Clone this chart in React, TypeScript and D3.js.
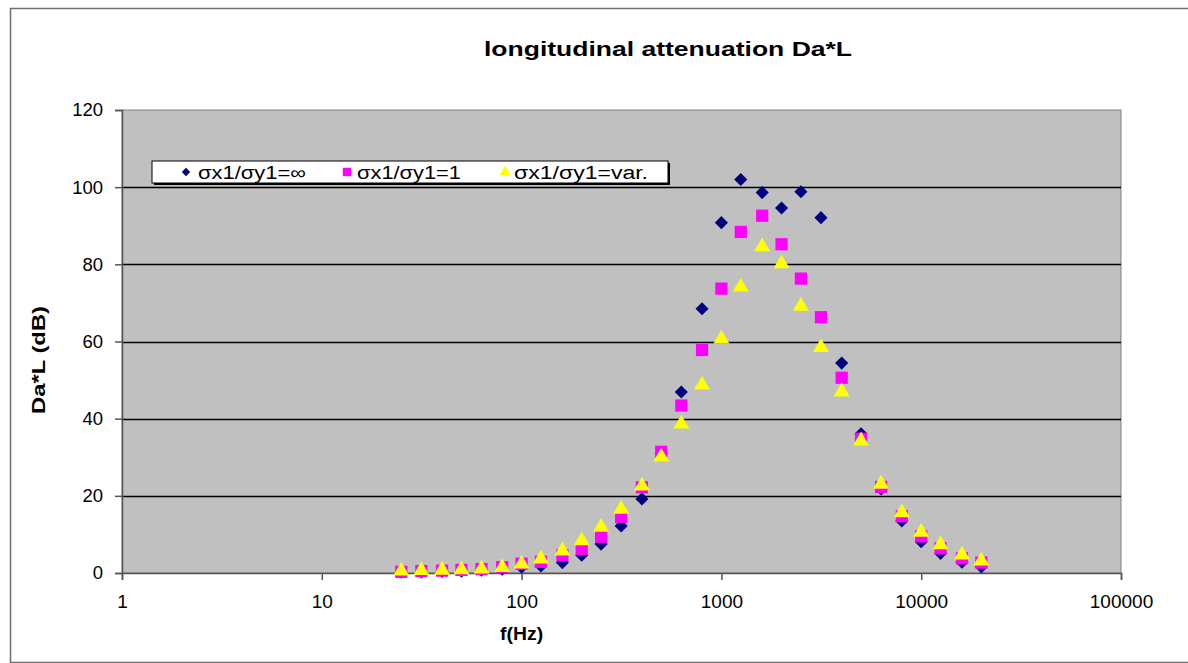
import React, { useRef, useEffect } from "react";
import * as d3 from "d3";

const freqs = [
  25, 31.5, 40, 50, 63, 80, 100, 125, 160, 200, 250, 315, 400, 500, 630, 800,
  1000, 1250, 1600, 2000, 2500, 3150, 4000, 5000, 6300, 8000, 10000, 12500,
  16000, 20000,
];
const infValues = [
  0.2, 0.3, 0.4, 0.5, 0.7, 1.0, 1.5, 1.8, 2.7, 4.6, 7.5, 12.2, 19.2, 31.0, 46.9,
  68.5, 90.8, 102.0, 98.6, 94.6, 98.8, 92.1, 54.4, 36.1, 21.8, 13.5, 8.1, 5.1,
  2.8, 1.6,
];
const oneValues = [
  0.3, 0.5, 0.6, 0.8, 1.0, 1.5, 2.4, 2.9, 4.6, 6.2, 9.4, 14.5, 22.2, 31.4, 43.4,
  57.8, 73.7, 88.4, 92.6, 85.2, 76.3, 66.3, 50.6, 34.8, 22.3, 14.7, 9.5, 6.4,
  3.8, 2.7,
];
const varValues = [
  0.3, 0.4, 0.5, 0.6, 0.8, 1.2, 2.1, 3.4, 5.5, 8.1, 11.6, 16.3, 22.3, 29.8, 38.4,
  48.5, 60.4, 73.9, 84.3, 79.9, 68.9, 58.2, 46.7, 34.0, 22.8, 15.4, 10.3, 7.1,
  4.4, 2.9,
];
const seriesLabels = ["σx1/σy1=∞", "σx1/σy1=1", "σx1/σy1=var."];
const xTicks = [1, 10, 100, 1000, 10000, 100000];
const yTicks = [0, 20, 40, 60, 80, 100, 120];

const W = 1188;
const H = 663;
const FONT = "'Liberation Sans', Arial, sans-serif";

const Chart = () => {
  const ref = useRef<SVGSVGElement | null>(null);

  useEffect(() => {
    if (!ref.current) return;
    const svg = d3.select(ref.current);
    svg.selectAll("*").remove();

    const plot = { left: 122, top: 110, right: 1121, bottom: 573 };

    const x = d3.scaleLog().domain([1, 100000]).range([plot.left, plot.right]);
    const y = d3.scaleLinear().domain([0, 120]).range([plot.bottom, plot.top]);

    // page background + outer frame
    svg.append("rect").attr("width", W).attr("height", H).attr("fill", "#fff");
    svg
      .append("rect")
      .attr("x", 10.5)
      .attr("y", 8.5)
      .attr("width", W)
      .attr("height", H - 9)
      .attr("fill", "#fff")
      .attr("stroke", "#6e6e6e")
      .attr("stroke-width", 1.5);

    // plot area
    svg
      .append("rect")
      .attr("x", plot.left)
      .attr("y", plot.top)
      .attr("width", plot.right - plot.left)
      .attr("height", plot.bottom - plot.top)
      .attr("fill", "#c0c0c0")
      .attr("stroke", "#808080")
      .attr("stroke-width", 1);

    // grid lines
    svg
      .append("g")
      .selectAll("line")
      .data(yTicks.filter((d) => d > 0 && d < 120))
      .enter()
      .append("line")
      .attr("x1", plot.left)
      .attr("x2", plot.right)
      .attr("y1", (d) => Math.round(y(d)) + 0.5)
      .attr("y2", (d) => Math.round(y(d)) + 0.5)
      .attr("stroke", "#000")
      .attr("stroke-width", 1.5);

    // Y axis
    svg
      .append("g")
      .attr("transform", `translate(${plot.left},0)`)
      .call(d3.axisLeft(y).tickValues(yTicks).tickSize(7).tickPadding(12))
      .call((g) => g.selectAll("line, path").attr("stroke", "#555").attr("stroke-width", 1.5))
      .selectAll("text")
      .style("font-family", FONT)
      .style("font-size", "18.5px")
      .style("fill", "#000");

    // X axis
    svg
      .append("g")
      .attr("transform", `translate(0,${plot.bottom})`)
      .call(
        d3
          .axisBottom(x)
          .tickValues(xTicks)
          .tickFormat((d) => String(d))
          .tickSize(7)
          .tickPadding(15)
      )
      .call((g) => g.selectAll("line, path").attr("stroke", "#555").attr("stroke-width", 1.5))
      .selectAll("text")
      .style("font-family", FONT)
      .style("font-size", "19px")
      .style("fill", "#000");

    // titles
    svg
      .append("text")
      .attr("x", 668)
      .attr("y", 56)
      .attr("text-anchor", "middle")
      .attr("textLength", 368)
      .attr("lengthAdjust", "spacingAndGlyphs")
      .style("font-family", FONT)
      .style("font-size", "21px")
      .style("font-weight", "bold")
      .text("longitudinal attenuation Da*L");
    svg
      .append("text")
      .attr("x", x(100))
      .attr("y", 640)
      .attr("text-anchor", "middle")
      .attr("textLength", 43)
      .attr("lengthAdjust", "spacingAndGlyphs")
      .style("font-family", FONT)
      .style("font-size", "18px")
      .style("font-weight", "bold")
      .text("f(Hz)");
    svg
      .append("text")
      .attr("transform", `translate(45,360) rotate(-90)`)
      .attr("text-anchor", "middle")
      .attr("textLength", 108)
      .attr("lengthAdjust", "spacingAndGlyphs")
      .style("font-family", FONT)
      .style("font-size", "18px")
      .style("font-weight", "bold")
      .text("Da*L (dB)");

    const diamond = d3.symbol().type(d3.symbolDiamond2).size(110);
    const square = d3.symbol().type(d3.symbolSquare).size(150);
    const triangle = d3.symbol().type(d3.symbolTriangle).size(110);

    const markers = [
      { values: infValues, sym: diamond, color: "#000080", dy: 0 },
      { values: oneValues, sym: square, color: "#ff00ff", dy: 0 },
      { values: varValues, sym: triangle, color: "#ffff00", dy: -1 },
    ];

    markers.forEach((m) => {
      svg
        .append("g")
        .selectAll("path")
        .data(m.values)
        .enter()
        .append("path")
        .attr("d", m.sym() as string)
        .attr("transform", (d, i) => `translate(${x(freqs[i])},${y(d) + m.dy})`)
        .attr("fill", m.color);
    });

    // legend
    const lg = svg.append("g").attr("transform", "translate(152,161)");
    lg.append("rect")
      .attr("x", 2)
      .attr("y", 2)
      .attr("width", 516)
      .attr("height", 22)
      .attr("fill", "#000");
    lg.append("rect")
      .attr("width", 516)
      .attr("height", 22)
      .attr("fill", "#fff")
      .attr("stroke", "#000")
      .attr("stroke-width", 1);
    const legendMarkX = [34, 195, 353];
    const legendTextX = [46, 205, 362];
    const legendTextLen = [108, 104, 134];
    const legendSizes = [45, 70, 55];
    markers.forEach((m, i) => {
      lg.append("path")
        .attr("d", m.sym.size(legendSizes[i])() as string)
        .attr("transform", `translate(${legendMarkX[i]},11)`)
        .attr("fill", m.color);
      lg.append("text")
        .attr("x", legendTextX[i])
        .attr("y", 18)
        .attr("textLength", legendTextLen[i])
        .attr("lengthAdjust", "spacingAndGlyphs")
        .style("font-family", FONT)
        .style("font-size", "18px")
        .text(seriesLabels[i]);
    });
  }, []);

  return <svg ref={ref} width={W} height={H} style={{ display: "block" }} />;
};

export default function App() {
  return (
    <div style={{ position: "fixed", left: 0, top: 0 }}>
      <Chart />
    </div>
  );
}
